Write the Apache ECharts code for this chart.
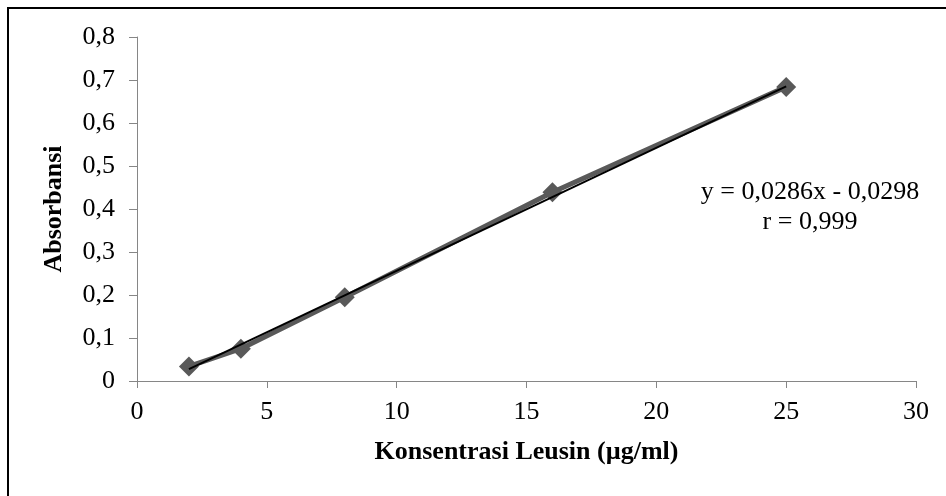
<!DOCTYPE html>
<html>
<head>
<meta charset="utf-8">
<script src="https://cdn.jsdelivr.net/npm/echarts@6/dist/echarts.min.js"></script>
<style>html,body{margin:0;padding:0;background:#fff;}#c{width:946px;height:496px;}</style>
</head>
<body>
<div id="c"></div>
<script>
var concentrations = [2, 4, 8, 16, 25];
var absorbances = [0.034, 0.075, 0.195, 0.439, 0.684];
var trendX = [2, 25];
var trendY = [0.0274, 0.6852];
var xTicks = [0, 5, 10, 15, 20, 25, 30];
var yTicks = ['0', '0,1', '0,2', '0,3', '0,4', '0,5', '0,6', '0,7', '0,8'];
var equationText = 'y = 0,0286x - 0,0298';
var rText = 'r = 0,999';

var font = 'Liberation Serif';
var chart = echarts.init(document.getElementById('c'));
chart.setOption({
  animation: false,
  backgroundColor: '#fff',
  grid: { left: 137, right: 30, top: 37, bottom: 115 },
  xAxis: {
    type: 'value', min: 0, max: 30, interval: 5,
    name: 'Konsentrasi Leusin (µg/ml)', nameLocation: 'middle', nameGap: 58,
    nameTextStyle: { fontFamily: font, fontSize: 26, fontWeight: 'bold', color: '#000' },
    axisLine: { lineStyle: { color: '#868686', width: 1 } },
    axisTick: { show: true, length: 7, lineStyle: { color: '#868686' } },
    axisLabel: { fontFamily: font, fontSize: 26, color: '#000', margin: 18,
      formatter: function (v) { return xTicks.indexOf(v) >= 0 ? String(v) : ''; } },
    splitLine: { show: false }
  },
  yAxis: {
    type: 'value', min: 0, max: 0.8, interval: 0.1,
    name: 'Absorbansi', nameLocation: 'middle', nameGap: 70,
    nameTextStyle: { fontFamily: font, fontSize: 26, fontWeight: 'bold', color: '#000' },
    axisLine: { show: true, lineStyle: { color: '#868686', width: 1 } },
    axisTick: { show: true, length: 8, lineStyle: { color: '#868686' } },
    axisLabel: { fontFamily: font, fontSize: 26, color: '#000', margin: 22,
      formatter: function (v) { return yTicks[Math.round(v * 10)]; } },
    splitLine: { show: false }
  },
  series: [
    {
      type: 'line',
      data: concentrations.map(function (x, i) { return [x, absorbances[i]]; }),
      symbol: 'diamond', symbolSize: 20,
      itemStyle: { color: '#595959' },
      lineStyle: { color: '#595959', width: 5 },
      z: 2
    },
    {
      type: 'line',
      data: trendX.map(function (x, i) { return [x, trendY[i]]; }),
      symbol: 'none',
      lineStyle: { color: '#000', width: 2 },
      z: 3
    }
  ],
  graphic: [
    { type: 'rect', shape: { x: 8, y: 8, width: 1000, height: 1000 },
      style: { fill: 'none', stroke: '#000', lineWidth: 2 }, z: 10 },
    { type: 'text', x: 810, y: 192,
      style: { text: equationText, font: '26px "Liberation Serif"', fill: '#000', textAlign: 'center', textVerticalAlign: 'middle' } },
    { type: 'text', x: 810, y: 222,
      style: { text: rText, font: '26px "Liberation Serif"', fill: '#000', textAlign: 'center', textVerticalAlign: 'middle' } }
  ]
});
</script>
</body>
</html>
